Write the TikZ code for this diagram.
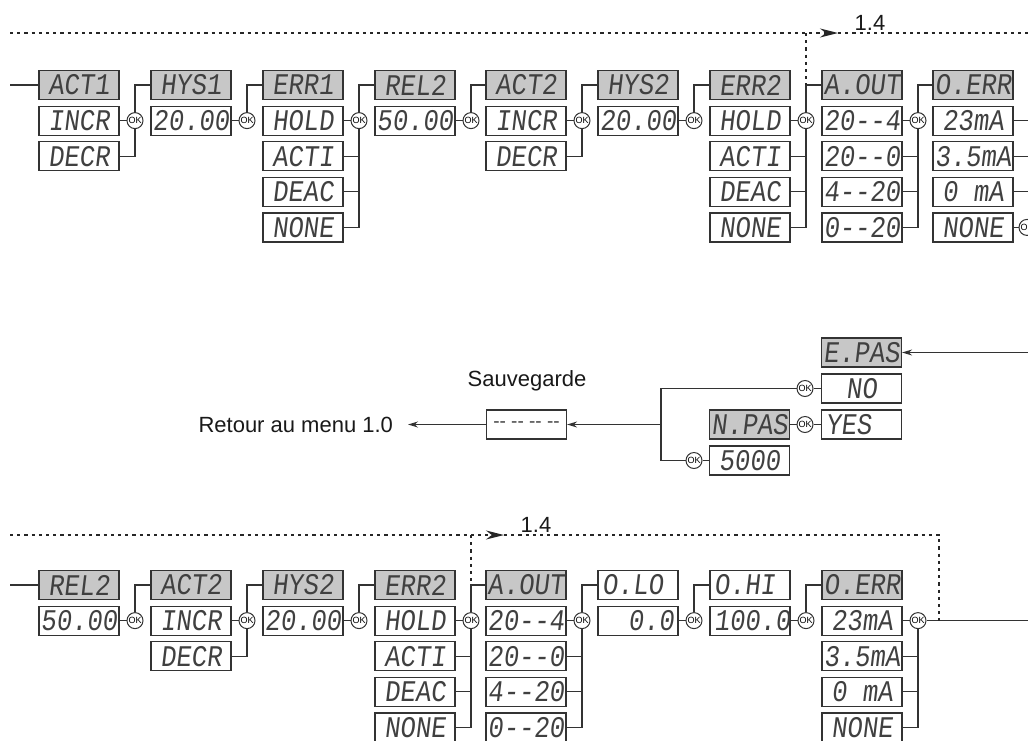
\documentclass[tikz,border=0pt]{standalone}
\usepackage{fontspec}
\setmainfont{Liberation Sans}
\newfontfamily\lcdfont[FakeSlant=0.12,FakeStretch=0.85]{Liberation Mono}
\usetikzlibrary{arrows.meta,calc,positioning}

\begin{document}
\begin{tikzpicture}[x=0.5pt,y=-0.5pt,
lcd/.style={draw=black!80, line width=0.6pt, fill=white, minimum width=40pt, minimum height=14.5pt, inner sep=0pt, text=black!75, font=\lcdfont\fontsize{15}{15}\selectfont},
hd/.style={lcd, fill=black!22},
lcdl/.style={lcd, text width=36pt, align=left},
lcdr/.style={lcd, text width=36pt, align=right},
ok/.style={circle, draw=black!80, fill=white, line width=0.5pt, minimum size=8pt, inner sep=0pt, font=\fontsize{4.5}{4.5}\selectfont},
wire/.style={draw=black!80, line width=0.6pt},
dotline/.style={draw=black!85, line width=0.7pt, dash pattern=on 1.6pt off 2pt},
lbl/.style={font=\fontsize{11}{11}\selectfont, text=black!90}]
\clip (0,0) rectangle (1028,740);
\coordinate (lim) at (10,0);
\coordinate (rim) at (1040,0);
% top row
\node[hd] (t11) at (79,85) {ACT1};
\node[lcd] (t12) at (79,120.6) {INCR};
\node[lcd] (t13) at (79,156.2) {DECR};
\node[hd] (t21) at (191,85) {HYS1};
\node[lcd] (t22) at (191,120.6) {20.00};
\node[hd] (t31) at (303,85) {ERR1};
\node[lcd] (t32) at (303,120.6) {HOLD};
\node[lcd] (t33) at (303,156.2) {ACTI};
\node[lcd] (t34) at (303,191.8) {DEAC};
\node[lcd] (t35) at (303,227.4) {NONE};
\node[hd] (t41) at (415,85) {REL2};
\node[lcd] (t42) at (415,120.6) {50.00};
\node[hd] (t51) at (526,85) {ACT2};
\node[lcd] (t52) at (526,120.6) {INCR};
\node[lcd] (t53) at (526,156.2) {DECR};
\node[hd] (t61) at (638,85) {HYS2};
\node[lcd] (t62) at (638,120.6) {20.00};
\node[hd] (t71) at (750,85) {ERR2};
\node[lcd] (t72) at (750,120.6) {HOLD};
\node[lcd] (t73) at (750,156.2) {ACTI};
\node[lcd] (t74) at (750,191.8) {DEAC};
\node[lcd] (t75) at (750,227.4) {NONE};
\node[hd] (t81) at (862,85) {A.OUT};
\node[lcd] (t82) at (862,120.6) {20-{}-4};
\node[lcd] (t83) at (862,156.2) {20-{}-0};
\node[lcd] (t84) at (862,191.8) {4-{}-20};
\node[lcd] (t85) at (862,227.4) {0-{}-20};
\node[hd] (t91) at (973,85) {O.ERR};
\node[lcd] (t92) at (973,120.6) {23mA};
\node[lcd] (t93) at (973,156.2) {3.5mA};
\node[lcd] (t94) at (973,191.8) {0 mA};
\node[lcd] (t95) at (973,227.4) {NONE};
\node[ok] (k1) at (135,120.6) {OK};
\node[ok] (k2) at (247,120.6) {OK};
\node[ok] (k3) at (359,120.6) {OK};
\node[ok] (k4) at (471,120.6) {OK};
\node[ok] (k5) at (582,120.6) {OK};
\node[ok] (k6) at (694,120.6) {OK};
\node[ok] (k7) at (806,120.6) {OK};
\node[ok] (k8) at (918,120.6) {OK};
\node[ok] (k9) at (1027,227.4) {OK};
\draw[wire] (lim |- t11) -- (t11.west);
\draw[wire] (t12.east) -- (k1.west);
\draw[wire] (t13.east) -| (k1.south);
\draw[wire] (k1.north) |- (t21.west);
\draw[wire] (t22.east) -- (k2.west);
\draw[wire] (k2.north) |- (t31.west);
\draw[wire] (t32.east) -- (k3.west);
\draw[wire] (t33.east) -- (t33.east -| k3);
\draw[wire] (t34.east) -- (t34.east -| k3);
\draw[wire] (t35.east) -| (k3.south);
\draw[wire] (k3.north) |- (t41.west);
\draw[wire] (t42.east) -- (k4.west);
\draw[wire] (k4.north) |- (t51.west);
\draw[wire] (t52.east) -- (k5.west);
\draw[wire] (t53.east) -| (k5.south);
\draw[wire] (k5.north) |- (t61.west);
\draw[wire] (t62.east) -- (k6.west);
\draw[wire] (k6.north) |- (t71.west);
\draw[wire] (t72.east) -- (k7.west);
\draw[wire] (t73.east) -- (t73.east -| k7);
\draw[wire] (t74.east) -- (t74.east -| k7);
\draw[wire] (t75.east) -| (k7.south);
\draw[wire] (k7.north) |- (t81.west);
\draw[wire] (t82.east) -- (k8.west);
\draw[wire] (t83.east) -- (t83.east -| k8);
\draw[wire] (t84.east) -- (t84.east -| k8);
\draw[wire] (t85.east) -| (k8.south);
\draw[wire] (k8.north) |- (t91.west);
\draw[wire] (t92.east) -- (t92.east -| rim);
\draw[wire] (t93.east) -- (t93.east -| rim);
\draw[wire] (t94.east) -- (t94.east -| rim);
\draw[wire] (t95.east) -- (k9.west);
\coordinate (d1) at (10,33);
\coordinate (d2) at (838,33);
\draw[dotline,-{Stealth[length=9pt,width=4.5pt]}] (d1) -- (d2);
\draw[dotline] (d2) -- (d2 -| rim);
\draw[dotline] (k7 |- d1) -- (k7 |- t81);
\node[lbl] (n1) at (870,22.5) {1.4};
% middle
\node[hd] (epas) at (861.5,352.5) {E.PAS};
\node[lcd] (no) at (861.5,388.5) {NO};
\node[hd] (npas) at (749.5,424.5) {N.PAS};
\node[lcdl] (yes) at (861.5,424.5) {YES};
\node[lcd] (s5000) at (749.5,460.5) {5000};
\node[ok] (m1) at (805,388.5) {OK};
\node[ok] (m2) at (805,424.5) {OK};
\node[ok] (m3) at (694,460.5) {OK};
\coordinate (j) at (661,424.5);
\node[lcd, font=\fontsize{9.5}{9.5}\selectfont] (save) at (526.5,424.5) {-{}- -{}- -{}- -{}-};
\node[lbl] (sauv) at (527,381) {Sauvegarde};
\node[lbl, anchor=east, inner sep=0pt, outer xsep=7.5pt] (ret) at (408,424.5) {Retour au menu 1.0};
\draw[wire,-{Stealth[length=5pt,width=3pt]}] (epas.east -| rim) -- (epas.east);
\draw[wire] (m1.east) -- (no.west);
\draw[wire] (npas.east) -- (m2.west);
\draw[wire] (m2.east) -- (yes.west);
\draw[wire] (m3.east) -- (s5000.west);
\draw[wire] (m1.west) -| (j |- m3) -- (m3.west);
\draw[wire,-{Stealth[length=5pt,width=3pt]}] (j) -- (save.east);
\draw[wire,-{Stealth[length=5pt,width=3pt]}] (save.west) -- (ret.east);
% bottom row
\node[hd] (b11) at (79,585) {REL2};
\node[lcd] (b12) at (79,620.6) {50.00};
\node[hd] (b21) at (191,585) {ACT2};
\node[lcd] (b22) at (191,620.6) {INCR};
\node[lcd] (b23) at (191,656.2) {DECR};
\node[hd] (b31) at (303,585) {HYS2};
\node[lcd] (b32) at (303,620.6) {20.00};
\node[hd] (b41) at (415,585) {ERR2};
\node[lcd] (b42) at (415,620.6) {HOLD};
\node[lcd] (b43) at (415,656.2) {ACTI};
\node[lcd] (b44) at (415,691.8) {DEAC};
\node[lcd] (b45) at (415,727.4) {NONE};
\node[hd] (b51) at (526,585) {A.OUT};
\node[lcd] (b52) at (526,620.6) {20-{}-4};
\node[lcd] (b53) at (526,656.2) {20-{}-0};
\node[lcd] (b54) at (526,691.8) {4-{}-20};
\node[lcd] (b55) at (526,727.4) {0-{}-20};
\node[hd, lcdl] (b61) at (638,585) {O.LO};
\node[lcdr] (b62) at (638,620.6) {0.0};
\node[hd, lcdl] (b71) at (750,585) {O.HI};
\node[lcdr] (b72) at (750,620.6) {100.0};
\node[hd] (b81) at (862,585) {O.ERR};
\node[lcd] (b82) at (862,620.6) {23mA};
\node[lcd] (b83) at (862,656.2) {3.5mA};
\node[lcd] (b84) at (862,691.8) {0 mA};
\node[lcd] (b85) at (862,727.4) {NONE};
\node[ok] (c1) at (135,620.6) {OK};
\node[ok] (c2) at (247,620.6) {OK};
\node[ok] (c3) at (359,620.6) {OK};
\node[ok] (c4) at (471,620.6) {OK};
\node[ok] (c5) at (582,620.6) {OK};
\node[ok] (c6) at (694,620.6) {OK};
\node[ok] (c7) at (806,620.6) {OK};
\node[ok] (c8) at (918,620.6) {OK};
\draw[wire] (lim |- b11) -- (b11.west);
\draw[wire] (b12.east) -- (c1.west);
\draw[wire] (c1.north) |- (b21.west);
\draw[wire] (b22.east) -- (c2.west);
\draw[wire] (b23.east) -| (c2.south);
\draw[wire] (c2.north) |- (b31.west);
\draw[wire] (b32.east) -- (c3.west);
\draw[wire] (c3.north) |- (b41.west);
\draw[wire] (b42.east) -- (c4.west);
\draw[wire] (b43.east) -- (b43.east -| c4);
\draw[wire] (b44.east) -- (b44.east -| c4);
\draw[wire] (b45.east) -| (c4.south);
\draw[wire] (c4.north) |- (b51.west);
\draw[wire] (b52.east) -- (c5.west);
\draw[wire] (b53.east) -- (b53.east -| c5);
\draw[wire] (b54.east) -- (b54.east -| c5);
\draw[wire] (b55.east) -| (c5.south);
\draw[wire] (c5.north) |- (b61.west);
\draw[wire] (b62.east) -- (c6.west);
\draw[wire] (c6.north) |- (b71.west);
\draw[wire] (b72.east) -- (c7.west);
\draw[wire] (c7.north) |- (b81.west);
\draw[wire] (b82.east) -- (c8.west);
\draw[wire] (b83.east) -- (b83.east -| c8);
\draw[wire] (b84.east) -- (b84.east -| c8);
\draw[wire] (b85.east) -| (c8.south);
\draw[wire] (c8.east) -- (c8 -| rim);
\coordinate (d3) at (10,535);
\coordinate (d4) at (504,535);
\coordinate (d5) at (939,535);
\draw[dotline,-{Stealth[length=9pt,width=4.5pt]}] (d3) -- (d4);
\draw[dotline] (d4) -- (d5) -- (d5 |- c8);
\draw[dotline] (c4 |- d3) -- (c4 |- b41);
\node[lbl] (n2) at (536,524.5) {1.4};
\end{tikzpicture}
\end{document}
